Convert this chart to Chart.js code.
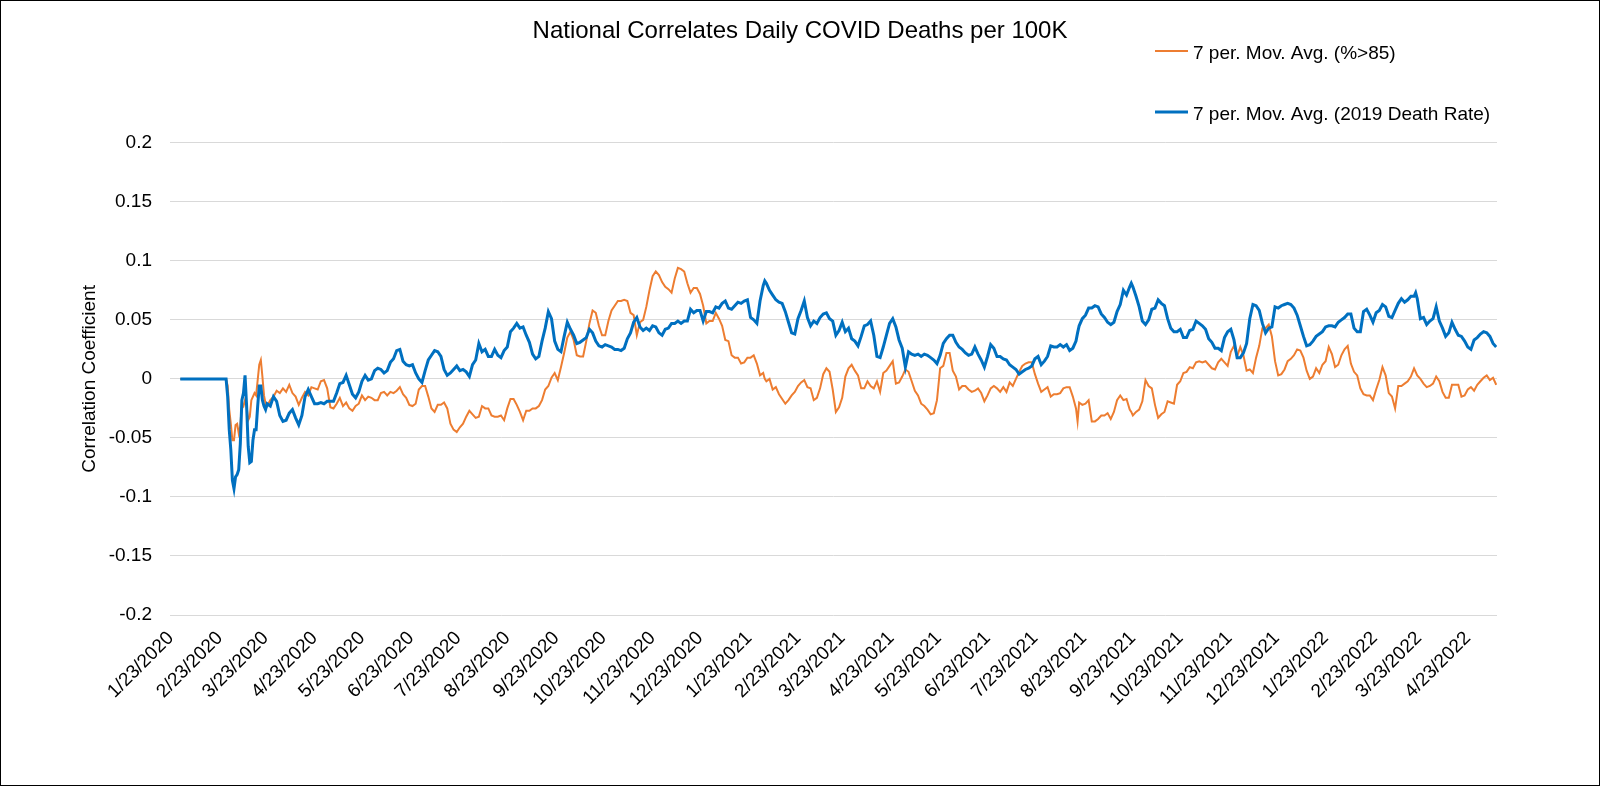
<!DOCTYPE html>
<html>
<head>
<meta charset="utf-8">
<script src="https://cdn.jsdelivr.net/npm/chart.js@4.4.1/dist/chart.umd.min.js"></script>
<style>
html,body{margin:0;padding:0;background:#fff;}
canvas{display:block;}
</style>
</head>
<body>
<canvas id="c" width="1600" height="786"></canvas>
<script>
const chartTitle = "National Correlates Daily COVID Deaths per 100K";
const yAxisTitle = "Correlation Coefficient";
const seriesNames = ["7 per. Mov. Avg. (%>85)", "7 per. Mov. Avg. (2019 Death Rate)"];
const totalDays = 840; // 1/23/2020 .. 5/10/2022

const tickLabels = ["1/23/2020","2/23/2020","3/23/2020","4/23/2020","5/23/2020","6/23/2020","7/23/2020",
  "8/23/2020","9/23/2020","10/23/2020","11/23/2020","12/23/2020","1/23/2021","2/23/2021","3/23/2021",
  "4/23/2021","5/23/2021","6/23/2021","7/23/2021","8/23/2021","9/23/2021","10/23/2021","11/23/2021",
  "12/23/2021","1/23/2022","2/23/2022","3/23/2022","4/23/2022"];

// day index since 1/23/2020
const days = [
  6,10,15,20,25,30,35,36,37,38,
  39,40,41,42,43,44,45,46,47,48,
  49,50,51,52,53,54,55,56,57,58,
  59,60,61,63,65,67,69,71,73,75,
  77,79,81,83,85,87,89,91,93,95,
  97,99,101,103,105,107,109,111,113,115,
  117,119,121,123,125,127,129,131,133,135,
  137,139,141,143,145,147,149,151,153,155,
  157,159,161,163,165,167,169,171,173,175,
  177,179,181,183,185,187,189,191,193,195,
  197,199,201,203,205,207,209,211,213,215,
  217,219,221,223,225,227,229,231,233,235,
  237,239,241,243,245,247,249,251,253,255,
  257,259,261,263,265,267,269,271,273,275,
  277,279,281,283,285,287,289,291,293,295,
  297,299,301,303,305,307,309,311,313,315,
  317,319,321,323,325,327,329,331,333,335,
  337,339,341,343,345,347,349,351,353,355,
  357,359,361,363,365,367,369,371,373,375,
  376,377,379,381,383,385,387,389,391,393,
  395,397,399,401,403,405,407,409,411,413,
  415,417,419,421,423,425,427,429,431,433,
  435,437,439,441,443,445,447,449,451,453,
  455,457,459,461,463,465,467,469,471,473,
  475,477,479,481,483,485,487,489,491,493,
  495,497,499,501,503,505,507,509,511,513,
  515,517,519,521,523,525,527,529,531,533,
  535,537,539,541,543,545,547,549,551,553,
  555,557,559,561,563,565,567,569,571,573,
  574,575,577,579,581,583,585,587,589,591,
  593,595,597,599,601,603,605,607,608,609,
  611,613,615,617,619,621,623,625,627,629,
  631,633,635,637,639,641,643,645,647,649,
  651,653,655,657,659,661,663,665,667,669,
  671,673,675,677,679,681,683,685,687,689,
  691,693,695,697,699,701,703,705,707,709,
  711,713,715,717,719,721,723,725,727,729,
  731,733,735,737,739,741,743,745,747,749,
  751,753,755,757,759,761,763,765,767,769,
  771,773,775,777,779,781,783,785,787,788,
  789,791,793,795,797,799,801,803,805,807,
  809,811,813,815,817,819,821,823,825,827,
  829,831,833,835,837,839
];

const pctOver85 = [
  0,0,0,0,0,0,0,-0.006,-0.026,-0.038,
  -0.052,-0.052,-0.039,-0.038,-0.046,-0.040,-0.021,-0.023,-0.018,-0.023,
  -0.035,-0.032,-0.018,-0.015,-0.012,-0.014,-0.001,0.012,0.016,0.002,
  -0.014,-0.021,-0.023,-0.018,-0.015,-0.010,-0.012,-0.008,-0.011,-0.005,
  -0.012,-0.015,-0.022,-0.016,-0.011,-0.014,-0.007,-0.008,-0.009,-0.002,
  -0.001,-0.008,-0.024,-0.025,-0.021,-0.016,-0.023,-0.020,-0.025,-0.027,
  -0.023,-0.021,-0.014,-0.018,-0.015,-0.016,-0.018,-0.018,-0.012,-0.011,
  -0.014,-0.011,-0.012,-0.010,-0.007,-0.013,-0.016,-0.022,-0.023,-0.021,
  -0.009,-0.006,-0.006,-0.015,-0.025,-0.028,-0.022,-0.022,-0.020,-0.025,
  -0.038,-0.043,-0.045,-0.041,-0.038,-0.032,-0.027,-0.030,-0.033,-0.032,
  -0.023,-0.025,-0.025,-0.031,-0.032,-0.032,-0.031,-0.035,-0.025,-0.017,
  -0.017,-0.022,-0.028,-0.035,-0.027,-0.027,-0.025,-0.025,-0.023,-0.018,
  -0.009,-0.006,0.001,0.005,-0.001,0.010,0.022,0.035,0.040,0.033,
  0.020,0.019,0.019,0.032,0.047,0.058,0.056,0.045,0.037,0.037,
  0.049,0.058,0.062,0.066,0.066,0.067,0.066,0.056,0.054,0.037,
  0.048,0.050,0.061,0.075,0.087,0.091,0.088,0.082,0.078,0.076,
  0.073,0.085,0.094,0.093,0.091,0.081,0.073,0.077,0.077,0.072,
  0.062,0.047,0.049,0.049,0.056,0.051,0.045,0.033,0.032,0.020,
  0.018,0.018,0.013,0.014,0.018,0.018,0.020,0.013,0.003,0.005,
  0.000,-0.002,0.000,-0.009,-0.007,-0.013,-0.017,-0.021,-0.018,-0.014,
  -0.011,-0.006,-0.003,-0.001,-0.007,-0.008,-0.018,-0.016,-0.008,0.004,
  0.009,0.006,-0.009,-0.028,-0.024,-0.016,0.002,0.009,0.012,0.007,
  0.003,-0.008,-0.008,-0.002,-0.006,-0.008,-0.002,-0.011,0.005,0.007,
  0.011,0.015,-0.004,-0.003,0.002,0.008,0.006,-0.002,-0.010,-0.014,
  -0.021,-0.023,-0.026,-0.030,-0.029,-0.018,0.009,0.011,0.022,0.022,
  0.007,0.002,-0.009,-0.006,-0.006,-0.009,-0.011,-0.010,-0.008,-0.012,
  -0.019,-0.014,-0.008,-0.006,-0.008,-0.011,-0.007,-0.011,-0.003,-0.006,
  0.000,0.006,0.011,0.013,0.014,0.014,0.004,-0.004,-0.011,-0.009,
  -0.007,-0.015,-0.013,-0.013,-0.012,-0.008,-0.007,-0.007,-0.015,-0.025,
  -0.036,-0.020,-0.022,-0.021,-0.018,-0.036,-0.036,-0.034,-0.031,-0.031,
  -0.029,-0.034,-0.028,-0.018,-0.014,-0.018,-0.017,-0.026,-0.028,-0.031,
  -0.028,-0.026,-0.019,-0.001,-0.006,-0.008,-0.022,-0.033,-0.030,-0.028,
  -0.019,-0.020,-0.021,-0.005,-0.002,0.005,0.006,0.010,0.009,0.014,
  0.015,0.014,0.015,0.012,0.009,0.008,0.014,0.017,0.014,0.011,
  0.023,0.028,0.019,0.027,0.020,0.007,0.008,0.005,0.018,0.028,
  0.043,0.043,0.046,0.036,0.015,0.003,0.004,0.008,0.015,0.017,
  0.020,0.025,0.024,0.018,0.007,0.000,0.002,0.009,0.005,0.012,
  0.015,0.027,0.021,0.010,0.012,0.020,0.025,0.028,0.013,0.006,
  0.003,-0.008,-0.013,-0.014,-0.014,-0.018,-0.009,-0.001,0.010,0.003,
  -0.012,-0.015,-0.025,-0.006,-0.006,-0.004,-0.002,0.002,0.009,0.006,
  0.003,0.000,-0.004,-0.007,-0.006,-0.004,0.002,-0.002,-0.011,-0.016,
  -0.016,-0.005,-0.005,-0.005,-0.015,-0.014,-0.009,-0.007,-0.010,-0.005,
  -0.002,0.001,0.003,-0.001,0.001,-0.005
];

const deathRate2019 = [
  0,0,0,0,0,0,0,-0.015,-0.043,-0.060,
  -0.086,-0.093,-0.083,-0.081,-0.077,-0.055,-0.018,-0.012,0.003,-0.023,
  -0.057,-0.071,-0.070,-0.052,-0.043,-0.043,-0.023,-0.006,-0.006,-0.018,
  -0.023,-0.026,-0.021,-0.023,-0.015,-0.019,-0.031,-0.036,-0.035,-0.029,
  -0.026,-0.033,-0.039,-0.031,-0.015,-0.009,-0.015,-0.021,-0.021,-0.020,
  -0.021,-0.019,-0.019,-0.019,-0.012,-0.004,-0.003,0.003,-0.005,-0.013,
  -0.016,-0.011,-0.002,0.003,-0.001,0.000,0.007,0.009,0.008,0.005,
  0.007,0.014,0.017,0.024,0.025,0.015,0.012,0.011,0.012,0.005,
  0.000,-0.003,0.007,0.016,0.020,0.024,0.023,0.019,0.008,0.003,
  0.005,0.008,0.011,0.007,0.008,0.006,0.002,0.012,0.016,0.030,
  0.023,0.025,0.019,0.019,0.025,0.020,0.018,0.024,0.027,0.040,
  0.043,0.047,0.043,0.044,0.037,0.031,0.021,0.017,0.019,0.032,
  0.043,0.057,0.051,0.032,0.025,0.023,0.036,0.048,0.042,0.037,
  0.030,0.031,0.033,0.035,0.042,0.039,0.032,0.028,0.027,0.029,
  0.028,0.027,0.025,0.025,0.024,0.026,0.034,0.039,0.048,0.052,
  0.044,0.041,0.043,0.041,0.045,0.044,0.039,0.037,0.042,0.043,
  0.047,0.047,0.049,0.047,0.049,0.049,0.059,0.056,0.058,0.058,
  0.049,0.057,0.057,0.056,0.061,0.060,0.064,0.066,0.060,0.059,
  0.062,0.065,0.064,0.066,0.067,0.052,0.050,0.047,0.066,0.079,
  0.083,0.081,0.075,0.071,0.067,0.065,0.064,0.057,0.048,0.039,
  0.038,0.051,0.058,0.066,0.052,0.045,0.049,0.047,0.052,0.055,
  0.056,0.051,0.049,0.037,0.041,0.048,0.040,0.043,0.034,0.032,
  0.028,0.036,0.045,0.046,0.049,0.037,0.019,0.018,0.027,0.037,
  0.047,0.051,0.044,0.033,0.026,0.010,0.023,0.021,0.020,0.021,
  0.019,0.021,0.020,0.018,0.016,0.013,0.020,0.030,0.034,0.037,
  0.037,0.031,0.027,0.025,0.022,0.020,0.021,0.027,0.021,0.016,
  0.010,0.019,0.029,0.026,0.019,0.019,0.017,0.016,0.012,0.010,
  0.008,0.004,0.006,0.008,0.009,0.011,0.017,0.019,0.012,0.015,
  0.019,0.028,0.027,0.027,0.029,0.027,0.029,0.024,0.026,0.032,
  0.039,0.045,0.051,0.054,0.060,0.060,0.062,0.061,0.055,0.052,
  0.048,0.046,0.048,0.057,0.063,0.075,0.071,0.078,0.081,0.078,
  0.070,0.061,0.049,0.046,0.050,0.059,0.060,0.067,0.064,0.062,
  0.051,0.043,0.040,0.040,0.042,0.035,0.035,0.041,0.042,0.049,
  0.047,0.045,0.042,0.034,0.031,0.026,0.026,0.024,0.035,0.040,
  0.042,0.033,0.018,0.018,0.022,0.030,0.051,0.063,0.062,0.058,
  0.047,0.039,0.043,0.044,0.061,0.060,0.062,0.063,0.064,0.063,
  0.060,0.054,0.045,0.036,0.028,0.029,0.032,0.036,0.038,0.040,
  0.044,0.045,0.045,0.044,0.048,0.050,0.052,0.055,0.055,0.043,
  0.040,0.040,0.057,0.059,0.054,0.048,0.056,0.058,0.063,0.061,
  0.053,0.052,0.058,0.064,0.068,0.065,0.067,0.070,0.070,0.073,
  0.068,0.051,0.052,0.046,0.049,0.051,0.061,0.049,0.043,0.036,
  0.039,0.048,0.042,0.037,0.036,0.032,0.027,0.025,0.033,0.035,
  0.038,0.040,0.039,0.036,0.030,0.027
];

const FONT = "'Liberation Sans', Arial, Helvetica, sans-serif";
const T0 = Date.UTC(2020, 0, 23);
function dayOf(label) {
  const p = label.split('/').map(Number);
  return Math.round((Date.UTC(p[2], p[0] - 1, p[1]) - T0) / 86400000);
}
const tickDays = tickLabels.map(dayOf);

function pts(vals) { return days.map((d, i) => ({ x: d, y: vals[i] })); }

const pagePlugin = {
  id: 'page',
  beforeDraw(chart) {
    const c = chart.ctx;
    c.save(); c.fillStyle = '#fff'; c.fillRect(0, 0, chart.width, chart.height); c.restore();
  },
  afterDraw(chart) {
    const c = chart.ctx;
    c.save(); c.strokeStyle = '#000'; c.lineWidth = 1;
    c.strokeRect(0.5, 0.5, chart.width - 1, chart.height - 1); c.restore();
  }
};

const legendPlugin = {
  id: 'stackedLegend',
  afterDraw(chart) {
    const c = chart.ctx;
    const rows = [{ line: 51, base: 59 }, { line: 112, base: 120 }];
    chart.data.datasets.forEach((ds, i) => {
      const r = rows[i];
      c.save();
      c.strokeStyle = ds.borderColor;
      c.lineWidth = ds.borderWidth;
      c.beginPath(); c.moveTo(1155, r.line); c.lineTo(1188, r.line); c.stroke();
      c.fillStyle = '#000';
      c.font = '19px ' + FONT;
      c.textBaseline = 'alphabetic';
      c.textAlign = 'left';
      c.fillText(ds.label, 1193, r.base);
      c.restore();
    });
  }
};

Chart.defaults.font.family = FONT;
Chart.defaults.color = '#000';

new Chart(document.getElementById('c'), {
  type: 'line',
  data: {
    datasets: [
      { label: seriesNames[0], data: pts(pctOver85), borderColor: '#ED7D31', borderWidth: 2,
        pointRadius: 0, tension: 0, fill: false, order: 2 },
      { label: seriesNames[1], data: pts(deathRate2019), borderColor: '#0070C0', borderWidth: 3,
        pointRadius: 0, tension: 0, fill: false, order: 1 }
    ]
  },
  options: {
    responsive: false,
    animation: false,
    devicePixelRatio: 1,
    layout: { padding: 0 },
    plugins: {
      legend: { display: false },
      tooltip: { enabled: false },
      title: { display: true, text: chartTitle, color: '#000',
        font: { size: 24, weight: 'normal', family: FONT }, padding: { top: 17, bottom: 97 } }
    },
    scales: {
      x: {
        type: 'linear', min: -0.5, max: totalDays - 0.5,
        grid: { display: false, drawTicks: false },
        border: { display: false },
        afterBuildTicks: (s) => { s.ticks = tickDays.map(v => ({ value: v })); },
        afterFit: (s) => { s.height = 171; },
        ticks: {
          autoSkip: false, maxRotation: 45, minRotation: 45, padding: 12,
          font: { size: 19 }, color: '#000',
          callback: (v) => { const k = tickDays.indexOf(v); return k >= 0 ? tickLabels[k] : ''; }
        }
      },
      y: {
        min: -0.2, max: 0.2,
        afterFit: (s) => { s.width = 170; },
        grid: { color: '#d9d9d9', lineWidth: 1, drawTicks: false },
        border: { display: false },
        ticks: { stepSize: 0.05, padding: 18, font: { size: 19 }, color: '#000',
          callback: (v) => String(Math.round(v * 100) / 100) },
        title: { display: true, text: yAxisTitle, color: '#000', font: { size: 19 },
          padding: { top: 78, bottom: 0 } }
      },
      yRightSpace: {
        position: 'right', display: true,
        grid: { display: false, drawTicks: false },
        border: { display: false },
        ticks: { display: false },
        afterFit: (s) => { s.width = 103; }
      }
    }
  },
  plugins: [pagePlugin, legendPlugin]
});
</script>
</body>
</html>
